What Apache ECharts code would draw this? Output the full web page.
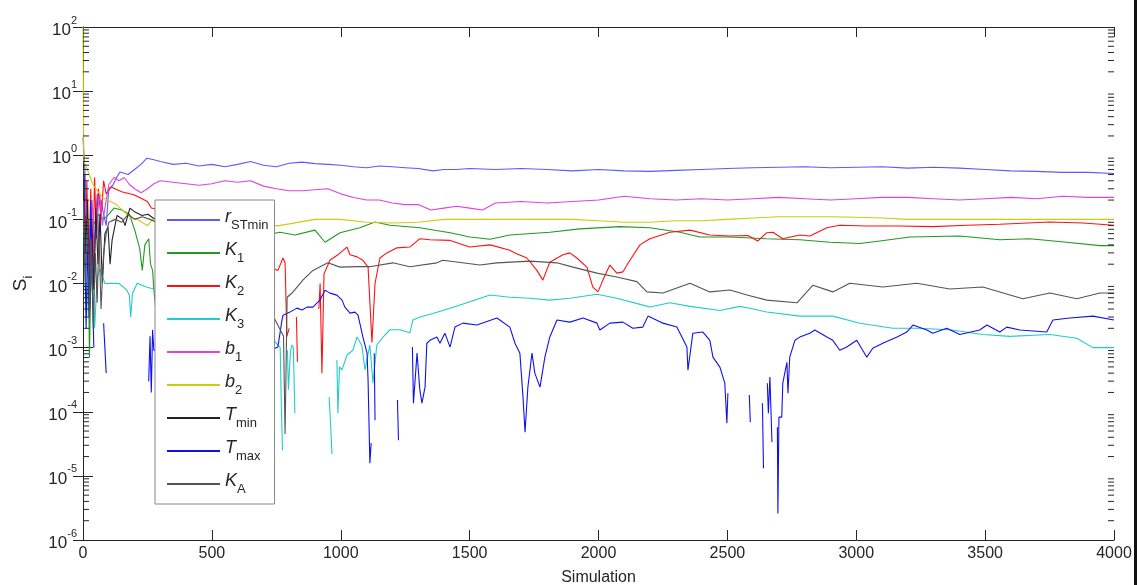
<!DOCTYPE html>
<html>
<head>
<meta charset="utf-8">
<script src="https://cdn.jsdelivr.net/npm/echarts@6/dist/echarts.min.js"></script>
<style>
  html, body { margin: 0; padding: 0; background: #fff; }
  #chart { width: 1137px; height: 585px; }
</style>
</head>
<body>
<div id="chart"></div>
<script>
// values, [simulation, S_i]; null = gap in the line
const rSTmin = [[0,1.9],[8,0.5],[15,0.12],[22,0.03],[30,0.1],[38,0.015],[46,0.06],[55,0.25],[62,0.04],[70,0.2],[80,0.12],[90,0.08],[100,0.3],[116,0.34],[130,0.45],[144,0.55],[175,0.5],[200,0.6],[225,0.72],[248,0.9],[275,0.85],[300,0.8],[350,0.72],[400,0.75],[450,0.68],[500,0.72],[550,0.66],[600,0.72],[650,0.8],[700,0.7],[750,0.66],[800,0.75],[850,0.78],[900,0.74],[950,0.72],[1000,0.7],[1050,0.66],[1100,0.64],[1150,0.68],[1200,0.66],[1250,0.64],[1300,0.62],[1358,0.57],[1400,0.6],[1450,0.6],[1500,0.62],[1600,0.6],[1700,0.62],[1800,0.6],[1900,0.57],[2000,0.6],[2100,0.57],[2200,0.56],[2300,0.58],[2400,0.6],[2500,0.62],[2600,0.64],[2700,0.65],[2800,0.66],[2900,0.64],[3000,0.65],[3100,0.66],[3200,0.63],[3300,0.65],[3400,0.63],[3500,0.6],[3600,0.57],[3700,0.56],[3800,0.54],[3900,0.54],[4000,0.52]];

const K1 = [[3,0.6],[10,0.2],[20,0.05],[25,0.0007],[30,0.01],[40,0.08],[50,0.1],[60,0.12],[80,0.1],[100,0.12],[120,0.15],[150,0.14],[180,0.12],[200,0.07],[220,0.035],[230,0.016],[240,0.04],[255,0.05],[262,0.02],[270,0.016],[275,0.008],[285,0.003],[500,0.04],[764,0.063],[822,0.057],[900,0.068],[939,0.044],[997,0.062],[1074,0.074],[1133,0.091],[1191,0.081],[1307,0.074],[1424,0.062],[1501,0.053],[1579,0.049],[1656,0.057],[1811,0.063],[1928,0.071],[2083,0.077],[2199,0.074],[2316,0.063],[2393,0.053],[2510,0.053],[2650,0.05],[2781,0.048],[2898,0.044],[3014,0.042],[3092,0.046],[3208,0.053],[3402,0.055],[3557,0.048],[3673,0.05],[3817,0.044],[3945,0.039],[4000,0.039]];

const K2 = [[3,0.5],[10,0.05],[15,0.4],[22,0.01],[30,0.3],[38,0.02],[45,0.45],[52,0.05],[60,0.3],[70,0.1],[80,0.4],[90,0.25],[110,0.32],[150,0.27],[200,0.24],[250,0.19],[265,0.15],[300,0.14],[400,0.09],[500,0.05],[600,0.03],[700,0.02],[756,0.016],[776,0.025],[784,0.021],[791,0.0015],[800,0.002],[805,null],[828,0.003],[832,0.0006],[836,null],[915,0.004],[920,0.01],[927,0.0004],[935,0.014],[958,0.023],[989,0.028],[1024,0.037],[1036,0.028],[1063,0.026],[1086,0.023],[1106,0.018],[1121,0.0012],[1133,0.01],[1152,0.025],[1179,0.03],[1218,0.036],[1268,0.037],[1307,0.05],[1346,0.048],[1424,0.047],[1500,0.037],[1580,0.04],[1656,0.033],[1676,0.03],[1722,0.025],[1761,0.016],[1784,0.0113],[1811,0.0215],[1862,0.028],[1889,0.03],[1916,0.025],[1955,0.018],[1978,0.0088],[1998,0.0074],[2017,0.0113],[2044,0.0194],[2071,0.0145],[2095,0.0152],[2122,0.023],[2161,0.04],[2199,0.05],[2277,0.063],[2355,0.068],[2432,0.057],[2510,0.055],[2580,0.056],[2618,0.046],[2653,0.062],[2677,0.063],[2715,0.05],[2781,0.057],[2820,0.055],[2886,0.074],[2936,0.081],[3041,0.079],[3169,0.079],[3297,0.077],[3429,0.081],[3557,0.084],[3751,0.091],[3879,0.088],[4000,0.081]];

const K3 = [[2,0.2],[8,0.01],[14,0.003],[20,0.015],[28,0.006],[36,0.02],[45,0.002],[55,0.012],[65,0.017],[85,0.01],[110,0.0101],[140,0.01],[170,0.0079],[180,0.0065],[185,0.003],[192,0.007],[210,0.0101],[240,0.009],[260,0.0085],[290,0.008],[500,0.004],[700,0.002],[765,0.001],[770,0.000106],[774,0.000025],[778,null],[793,0.00091],[797,0.00022],[805,0.0009],[811,0.0011],[816,0.001],[822,0.000095],[826,null],[955,0.00017],[960,0.00007],[966,0.000022],[970,null],[985,0.00064],[989,0.000095],[995,0.0005],[1005,0.00045],[1024,0.00076],[1047,0.00091],[1063,0.00146],[1082,0.00108],[1094,0.00045],[1113,0.0011],[1125,0.00028],[1140,0.0011],[1164,0.00146],[1191,0.0019],[1230,0.0019],[1268,0.0017],[1280,0.0027],[1307,0.003],[1358,0.0034],[1424,0.0041],[1501,0.0052],[1579,0.0066],[1656,0.0061],[1734,0.0059],[1811,0.0055],[1889,0.0059],[1994,0.0068],[2071,0.0059],[2172,0.0046],[2199,0.0043],[2277,0.005],[2355,0.0044],[2471,0.0038],[2548,0.0044],[2587,0.0041],[2653,0.0036],[2781,0.0031],[2909,0.0031],[3014,0.0024],[3142,0.002],[3235,0.002],[3363,0.0019],[3491,0.0016],[3596,0.0015],[3751,0.0016],[3856,0.0014],[3918,0.001],[4000,0.001]];

const b1 = [[5,0.3],[15,0.1],[25,0.05],[35,0.2],[45,0.03],[55,0.12],[65,0.25],[75,0.08],[85,0.15],[100,0.35],[120,0.45],[140,0.4],[160,0.45],[180,0.35],[200,0.3],[225,0.26],[250,0.3],[275,0.36],[300,0.4],[350,0.38],[400,0.36],[450,0.34],[500,0.36],[550,0.4],[600,0.38],[650,0.4],[700,0.33],[750,0.3],[800,0.28],[850,0.28],[900,0.29],[950,0.3],[1000,0.25],[1050,0.22],[1100,0.2],[1150,0.2],[1200,0.18],[1250,0.17],[1300,0.17],[1350,0.14],[1400,0.15],[1450,0.16],[1500,0.15],[1550,0.14],[1600,0.18],[1700,0.19],[1800,0.18],[1900,0.19],[2000,0.2],[2100,0.23],[2200,0.21],[2300,0.2],[2400,0.21],[2500,0.2],[2600,0.21],[2700,0.22],[2800,0.21],[2900,0.2],[3000,0.21],[3100,0.22],[3200,0.22],[3300,0.21],[3400,0.2],[3500,0.21],[3600,0.22],[3700,0.21],[3800,0.23],[3900,0.22],[4000,0.22]];

const b2 = [[0,100],[3,0.8],[10,0.7],[40,0.34],[75,0.22],[130,0.17],[180,0.11],[210,0.1],[250,0.08],[270,0.1],[300,0.085],[350,0.08],[400,0.08],[500,0.085],[600,0.08],[700,0.08],[760,0.08],[800,0.085],[900,0.1],[1000,0.1],[1100,0.09],[1200,0.088],[1300,0.09],[1400,0.1],[1500,0.1],[1600,0.1],[1700,0.1],[1800,0.1],[1900,0.1],[2000,0.095],[2100,0.09],[2200,0.09],[2300,0.095],[2400,0.095],[2500,0.1],[2600,0.105],[2700,0.11],[2800,0.11],[2900,0.11],[3000,0.108],[3100,0.105],[3200,0.1],[3300,0.1],[3400,0.1],[3500,0.1],[3600,0.1],[3700,0.1],[3800,0.1],[3900,0.1],[4000,0.1]];

const Tmin = [[3,0.4],[10,0.03],[18,0.2],[26,0.004],[34,0.1],[42,0.008],[50,0.15],[58,0.02],[66,0.12],[75,0.01],[85,0.06],[97,0.077],[105,0.02],[113,0.048],[132,0.115],[155,0.1],[163,0.08],[182,0.15],[202,0.13],[229,0.115],[252,0.12],[272,0.105],[350,0.08],[500,0.03],[700,0.01]];

const Tmax = [[3,0.5],[8,0.02],[12,0.002],[18,0.05],[24,0.003],[30,0.2],[36,0.01],[42,0.001],[48,null],[80,0.0024],[90,0.0004],[95,null],[255,0.0003],[260,0.0015],[265,0.0002],[270,0.0019],[275,0.0009],[300,0.001],[700,0.0008],[756,0.00102],[772,0.00269],[776,0.00321],[803,0.00358],[830,0.00413],[850,0.00385],[869,0.00428],[892,0.00428],[919,0.0055],[939,0.00788],[958,0.00708],[985,0.00659],[1005,0.0055],[1016,0.00428],[1036,0.00345],[1055,0.00358],[1067,0.00321],[1074,0.00241],[1086,0.00146],[1102,0.00082],[1106,0.000311],[1113,0.0000158],[1118,0.0000324],[1121,null],[1130,0.00082],[1133,0.000074],[1136,null],[1220,0.000152],[1224,0.000036],[1227,null],[1278,0.00102],[1282,0.000136],[1296,0.00082],[1307,0.000217],[1315,0.000136],[1327,0.000242],[1334,0.00117],[1346,0.0013],[1373,0.00146],[1385,0.00117],[1404,0.00168],[1424,0.00102],[1443,0.00209],[1474,0.00241],[1528,0.00225],[1606,0.00289],[1656,0.00209],[1676,0.00117],[1695,0.00082],[1707,0.000169],[1715,0.000048],[1726,0.000242],[1742,0.00082],[1753,0.0004],[1773,0.000242],[1792,0.00071],[1811,0.00146],[1839,0.00269],[1889,0.0025],[1940,0.00289],[1994,0.00241],[2005,0.00188],[2044,0.00241],[2095,0.0025],[2133,0.00201],[2172,0.00209],[2192,0.0031],[2250,0.00241],[2304,0.00209],[2343,0.00102],[2347,0.000446],[2366,0.00168],[2405,0.00175],[2432,0.0013],[2444,0.00071],[2471,0.000497],[2490,0.000279],[2498,0.0000664],[2502,0.000195],[2506,null],[2585,0.000182],[2589,0.0000689],[2593,null],[2636,0.000136],[2640,0.0000132],[2644,null],[2655,0.000279],[2659,0.000095],[2665,0.000347],[2673,0.0000336],[2680,null],[2694,0.0000575],[2696,0.0000026],[2700,0.0000824],[2711,0.0000824],[2715,0.000279],[2731,0.00059],[2735,0.000195],[2742,0.00071],[2762,0.0013],[2781,0.00146],[2820,0.00168],[2839,0.00188],[2886,0.00146],[2909,0.0013],[2936,0.00091],[2963,0.00102],[3002,0.0013],[3041,0.00071],[3064,0.00098],[3103,0.00117],[3158,0.00146],[3196,0.00175],[3220,0.00225],[3274,0.00188],[3297,0.00168],[3351,0.00201],[3402,0.0016],[3479,0.00188],[3507,0.00225],[3557,0.00175],[3584,0.00209],[3635,0.00188],[3739,0.00175],[3763,0.00269],[3829,0.00289],[3918,0.0031],[4000,0.00269]];

const KA = [[3,0.2],[10,0.01],[18,0.1],[25,0.003],[32,0.05],[40,0.002],[48,0.03],[55,0.005],[62,0.06],[70,0.004],[80,0.03],[90,0.06],[100,0.09],[125,0.1],[150,0.09],[175,0.12],[200,0.1],[230,0.11],[260,0.1],[285,0.09],[400,0.03],[600,0.008],[740,0.003],[778,0.0015],[784,0.000045],[792,0.0061],[811,0.0071],[853,0.0113],[892,0.016],[950,0.021],[997,0.018],[1063,0.0183],[1113,0.0183],[1202,0.021],[1268,0.0183],[1373,0.021],[1396,0.023],[1540,0.0194],[1606,0.021],[1734,0.0223],[1839,0.021],[1901,0.018],[1994,0.0145],[2071,0.0126],[2149,0.0107],[2188,0.0074],[2250,0.0071],[2355,0.0101],[2432,0.0074],[2510,0.0079],[2576,0.0066],[2653,0.0055],[2770,0.005],[2832,0.0094],[2909,0.0074],[2975,0.0101],[3103,0.0088],[3235,0.0101],[3363,0.0082],[3491,0.0088],[3646,0.0058],[3751,0.0071],[3856,0.0058],[3945,0.0071],[4000,0.0071]];

const decades = [-6, -5, -4, -3, -2, -1, 0, 1, 2];

const seriesList = [
  { name: 'rSTmin', label: '{i|r}{sub|STmin}', color: '#5a5aff', data: rSTmin },
  { name: 'K1', label: '{i|K}{sub|1}', color: '#229922', data: K1 },
  { name: 'K2', label: '{i|K}{sub|2}', color: '#ff1111', data: K2 },
  { name: 'K3', label: '{i|K}{sub|3}', color: '#22cccc', data: K3 },
  { name: 'b1', label: '{i|b}{sub|1}', color: '#dd44dd', data: b1 },
  { name: 'b2', label: '{i|b}{sub|2}', color: '#cccc11', data: b2 },
  { name: 'Tmin', label: '{i|T}{sub|min}', color: '#222222', data: Tmin },
  { name: 'Tmax', label: '{i|T}{sub|max}', color: '#1111ee', data: Tmax },
  { name: 'KA', label: '{i|K}{sub|A}', color: '#555555', data: KA }
];

// log minor ticks 2..9 x 10^k, drawn at both sides of the box
const minorTicks = [];
decades.slice(0, -1).forEach(function (e) {
  for (let m = 2; m <= 9; m++) minorTicks.push([0, m * Math.pow(10, e)]);
});

const chart = echarts.init(document.getElementById('chart'));
const ink = '#262626';
const font = '"Liberation Sans", Arial, sans-serif';

const labelMap = {};
seriesList.forEach(function (s) { labelMap[s.name] = s.label; });

const series = seriesList.map(function (s) {
  return {
    name: s.name,
    type: 'line',
    data: s.data,
    showSymbol: false,
    symbol: 'none',
    connectNulls: false,
    animation: false,
    lineStyle: { color: s.color, width: 1.1 },
    itemStyle: { color: s.color },
    z: 2
  };
});

series.push({
  name: 'minor',
  type: 'custom',
  data: minorTicks,
  silent: true,
  animation: false,
  clip: false,
  z: 5,
  renderItem: function (params, api) {
    const v = api.value(1);
    const l = api.coord([0, v]);
    const r = api.coord([4000, v]);
    return {
      type: 'group',
      children: [
        { type: 'line', shape: { x1: l[0], y1: l[1], x2: l[0] + 6, y2: l[1] }, style: { stroke: ink, lineWidth: 1 } },
        { type: 'line', shape: { x1: r[0] - 6, y1: r[1], x2: r[0], y2: r[1] }, style: { stroke: ink, lineWidth: 1 } }
      ]
    };
  }
});

const logLabel = function (value) {
  const e = Math.round(Math.log10(value));
  return '{b|10}{s|' + e + '}';
};

chart.setOption({
  backgroundColor: '#fff',
  animation: false,
  textStyle: { fontFamily: font },
  grid: { left: 83, top: 27, right: 23, bottom: 45, containLabel: false, outerBoundsMode: 'none' },
  legend: {
    data: seriesList.map(function (s) { return s.name; }),
    orient: 'vertical',
    left: 155,
    top: 200,
    padding: [8, 6, 8, 12],
    icon: 'rect',
    itemWidth: 53,
    itemHeight: 2,
    itemGap: 9,
    selectedMode: false,
    backgroundColor: '#fff',
    borderColor: '#888',
    borderWidth: 1,
    formatter: function (name) { return labelMap[name]; },
    textStyle: {
      color: ink,
      rich: {
        i: { fontSize: 18, fontStyle: 'italic', fontFamily: font, color: ink, lineHeight: 24, verticalAlign: 'top' },
        sub: { fontSize: 13, fontFamily: font, color: ink, lineHeight: 13, verticalAlign: 'bottom' }
      }
    }
  },
  xAxis: [
    {
      type: 'value',
      min: 0,
      max: 4000,
      interval: 500,
      name: 'Simulation',
      nameLocation: 'middle',
      nameGap: 30,
      nameTextStyle: { fontSize: 16, color: ink, fontFamily: font },
      axisLine: { lineStyle: { color: ink, width: 1 } },
      axisTick: { inside: true, length: 10, lineStyle: { color: ink } },
      axisLabel: { fontSize: 16, color: ink, margin: 6, fontFamily: font, formatter: function (v) { return String(v); } },
      splitLine: { show: false }
    },
    {
      type: 'value',
      min: 0,
      max: 4000,
      interval: 500,
      position: 'top',
      axisLine: { lineStyle: { color: ink, width: 1 } },
      axisTick: { inside: true, length: 10, lineStyle: { color: ink } },
      axisLabel: { show: false },
      splitLine: { show: false }
    }
  ],
  yAxis: [
    {
      type: 'log',
      logBase: 10,
      min: 1e-6,
      max: 1e2,
      splitNumber: 8,
      name: '{s|S}{i|i}',
      nameLocation: 'middle',
      nameRotate: 90,
      nameGap: 48,
      nameTextStyle: {
        color: ink,
        rich: {
          s: { fontSize: 19, fontFamily: font, color: ink, lineHeight: 24, verticalAlign: 'top' },
          i: { fontSize: 13, fontFamily: font, color: ink, lineHeight: 13, verticalAlign: 'bottom' }
        }
      },
      axisLine: { show: true, lineStyle: { color: ink, width: 1 } },
      axisTick: { inside: true, length: 10, lineStyle: { color: ink } },
      axisLabel: {
        margin: 6,
        formatter: logLabel,
        rich: {
          b: { fontSize: 17, fontFamily: font, color: ink, lineHeight: 24, verticalAlign: 'bottom' },
          s: { fontSize: 11, fontFamily: font, color: ink, lineHeight: 11, verticalAlign: 'top' }
        }
      },
      splitLine: { show: false }
    },
    {
      type: 'log',
      logBase: 10,
      min: 1e-6,
      max: 1e2,
      splitNumber: 8,
      position: 'right',
      axisLine: { show: true, lineStyle: { color: ink, width: 1 } },
      axisTick: { inside: true, length: 10, lineStyle: { color: ink } },
      axisLabel: { show: false },
      splitLine: { show: false }
    }
  ],
  graphic: [
    { type: 'rect', right: 0, top: 0, shape: { width: 3, height: 585 }, style: { fill: '#111' }, silent: true }
  ],
  series: series
});
</script>
</body>
</html>
